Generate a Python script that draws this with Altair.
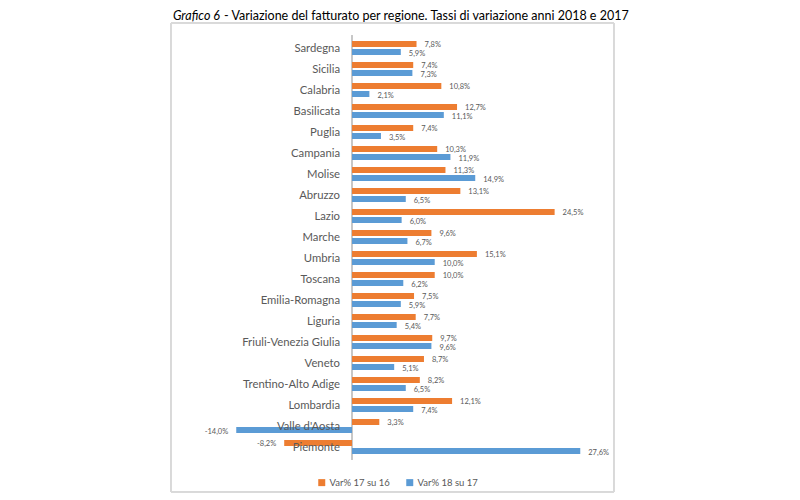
import altair as alt
import pandas as pd

regions = ["Sardegna", "Sicilia", "Calabria", "Basilicata", "Puglia", "Campania",
           "Molise", "Abruzzo", "Lazio", "Marche", "Umbria", "Toscana",
           "Emilia-Romagna", "Liguria", "Friuli-Venezia Giulia", "Veneto",
           "Trentino-Alto Adige", "Lombardia", "Valle d'Aosta", "Piemonte"]
var_17_16 = [7.8, 7.4, 10.8, 12.7, 7.4, 10.3, 11.3, 13.1, 24.5, 9.6, 15.1, 10.0,
             7.5, 7.7, 9.7, 8.7, 8.2, 12.1, 3.3, -8.2]
var_18_17 = [5.9, 7.3, 2.1, 11.1, 3.5, 11.9, 14.9, 6.5, 6.0, 6.7, 10.0, 6.2,
             5.9, 5.4, 9.6, 5.1, 6.5, 7.4, -14.0, 27.6]
series_names = ["Var% 17 su 16", "Var% 18 su 17"]
colors = ["#ED7D31", "#5B9BD5"]
title_a = ["Grafico 6"]
title_b = ["- Variazione del fatturato per regione. Tassi di variazione anni 2018 e 2017"]

rows = []
for r, a, b in zip(regions, var_17_16, var_18_17):
    rows.append({"regione": r, "serie": series_names[0], "valore": a})
    rows.append({"regione": r, "serie": series_names[1], "valore": b})
df = pd.DataFrame(rows)
df["etichetta"] = df["valore"].map(lambda v: f"{v:.1f}%".replace(".", ","))
reg_df = pd.DataFrame({"regione": regions, "zero": [0.0] * len(regions)})

W, H = 443, 420
FONT = "Lato"
GREY = "#595959"
OFFS = {series_names[0]: -4, series_names[1]: 4}
LOFFS = {series_names[0]: -3.5, series_names[1]: 6}

xscale = alt.Scale(domain=[-21.89, 31.68], nice=False, zero=False)
yscale = alt.Scale(domain=regions, paddingInner=0, paddingOuter=0)

X = alt.X("valore:Q", scale=xscale, axis=None)
X0 = alt.X("zero:Q", scale=xscale, axis=None)
Y = alt.Y("regione:N", scale=yscale, axis=None)

color = alt.Color(
    "serie:N",
    scale=alt.Scale(domain=series_names, range=colors),
    legend=alt.Legend(title=None, orient="none", legendX=146, legendY=440,
                      direction="horizontal", symbolType="square", symbolSize=49,
                      labelFontSize=9.5, labelColor=GREY, labelFont=FONT,
                      columnPadding=15, labelOffset=3),
)

layers = []

frame = alt.Chart(reg_df).mark_rect(fill="transparent", stroke="#d9d9d9", strokeWidth=1).encode(
    x=alt.value(0), x2=alt.value(W), y=alt.value(-14.5), y2=alt.value(454.5)
)
layers.append(frame)

rule = alt.Chart(reg_df).mark_rule(color="#c8c8c8", strokeWidth=1).encode(
    x=X0, y=alt.value(-2), y2=alt.value(422)
)
layers.append(rule)

for s in series_names:
    sub = alt.Chart(df).transform_filter(alt.datum.serie == s)
    layers.append(sub.mark_bar(height=6, yOffset=OFFS[s]).encode(x=X, y=Y, color=color))
    layers.append(sub.transform_filter("datum.valore >= 0").mark_text(
        align="left", baseline="middle", dx=8, yOffset=LOFFS[s], fontSize=7.5, font=FONT, color=GREY
    ).encode(x=X, y=Y, text="etichetta:N"))
    layers.append(sub.transform_filter("datum.valore < 0").mark_text(
        align="right", baseline="middle", dx=-8, yOffset=LOFFS[s], fontSize=7.5, font=FONT, color=GREY
    ).encode(x=X, y=Y, text="etichetta:N"))

rlab = alt.Chart(reg_df).mark_text(
    align="right", baseline="middle", dx=-12, dy=1, fontSize=11.3, font=FONT, color=GREY
).encode(x=X0, y=Y, text="regione:N")
layers.append(rlab)

t1 = alt.Chart(pd.DataFrame({"t": title_a})).mark_text(
    align="right", baseline="middle", fontSize=12.5, font=FONT, fontStyle="italic", color="#000000"
).encode(x=alt.value(49), y=alt.value(-21.5), text="t:N")
t2 = alt.Chart(pd.DataFrame({"t": title_b})).mark_text(
    align="left", baseline="middle", fontSize=12.5, font=FONT, color="#000000"
).encode(x=alt.value(53), y=alt.value(-21.5), text="t:N")
layers += [t1, t2]

chart = alt.layer(*layers).properties(
    width=W, height=H,
    padding={"left": 163, "top": 29.5, "right": 60, "bottom": 36},
    autosize=alt.AutoSizeParams(type="none"),
).configure_view(strokeWidth=0)

chart.save("out.html", embed_options={"renderer": "svg", "actions": False})
